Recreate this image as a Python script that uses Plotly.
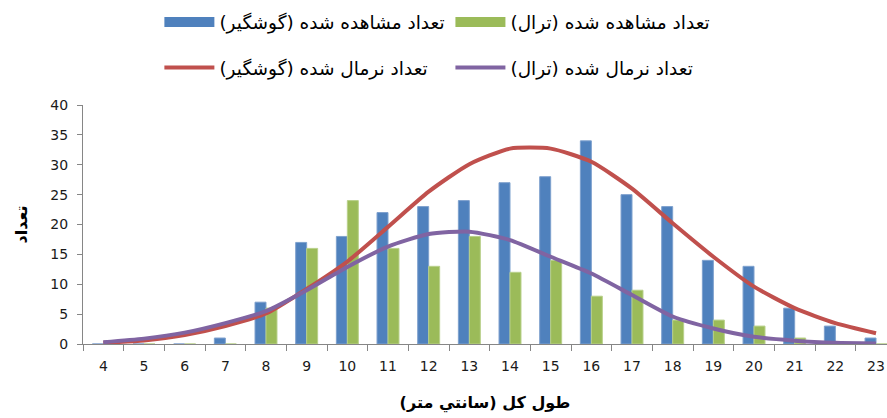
import plotly.graph_objects as go

# Total length classes (cm)
categories = ["4", "5", "6", "7", "8", "9", "10", "11", "12", "13",
              "14", "15", "16", "17", "18", "19", "20", "21", "22", "23"]

# Observed counts
gillnet_observed = [0, 0, 0, 1, 7, 17, 18, 22, 23, 24, 27, 28, 34, 25, 23, 14, 13, 6, 3, 1]
trawl_observed = [0, 0, 0, 0, 6, 16, 24, 16, 13, 18, 12, 14, 8, 9, 4, 4, 3, 1, 0, 0]

# Fitted normal counts
gillnet_normal = [0.2, 0.6, 1.5, 3.0, 5.1, 9.2, 13.8, 19.6, 25.5, 30.1,
                  32.7, 32.7, 30.5, 26.0, 20.2, 14.6, 9.6, 6.0, 3.5, 1.8]
trawl_normal = [0.3, 0.9, 1.9, 3.5, 5.5, 9.0, 12.9, 16.3, 18.4, 18.8,
                17.4, 14.6, 11.8, 8.2, 4.6, 2.6, 1.2, 0.55, 0.2, 0.1]

RLM = "\u200f"
names = [
    "تعداد مشاهده شده (گوشگیر)" + RLM,
    "تعداد مشاهده شده (ترال)" + RLM,
    "تعداد نرمال شده (گوشگیر)" + RLM,
    "تعداد نرمال شده (ترال)" + RLM,
]

BLUE = "#4F81BD"
GREEN = "#9BBB59"
RED = "#C0504D"
PURPLE = "#8064A2"
AXIS = "#868686"
FONT = "DejaVu Sans"

fig = go.Figure()
fig.add_trace(go.Bar(x=categories, y=gillnet_observed, name=names[0],
                     marker=dict(color=BLUE, line=dict(color="#7EA1CE", width=1)),
                     showlegend=False))
fig.add_trace(go.Bar(x=categories, y=trawl_observed, name=names[1],
                     marker=dict(color=GREEN, line=dict(color="#B8D08A", width=1)),
                     showlegend=False))
fig.add_trace(go.Scatter(x=categories, y=gillnet_normal, name=names[2], mode="lines",
                         line=dict(color=RED, width=4, shape="spline", smoothing=0.6),
                         legend="legend3"))
fig.add_trace(go.Scatter(x=categories, y=trawl_normal, name=names[3], mode="lines",
                         line=dict(color=PURPLE, width=4, shape="spline", smoothing=0.6),
                         legend="legend4"))

# Wide flat swatches for the bar series in the legend
fig.add_trace(go.Scatter(x=[None], y=[None], name=names[0], mode="lines",
                         line=dict(color=BLUE, width=10), legend="legend",
                         hoverinfo="skip"))
fig.add_trace(go.Scatter(x=[None], y=[None], name=names[1], mode="lines",
                         line=dict(color=GREEN, width=10), legend="legend2",
                         hoverinfo="skip"))


def legend_box(x, y):
    return dict(x=x, y=y, xanchor="left", yanchor="middle", orientation="h",
                bgcolor="rgba(0,0,0,0)", borderwidth=0, itemwidth=50,
                font=dict(family=FONT, size=18.5, color="#000000"))


fig.update_layout(
    width=887, height=418,
    margin=dict(l=83, r=0, t=105, b=74),
    paper_bgcolor="white", plot_bgcolor="white",
    showlegend=True,
    barmode="group", bargap=0.46, bargroupgap=0.0,
    font=dict(family=FONT, size=14, color="#1a1a1a"),
    legend=legend_box(0.095, 1.345),
    legend2=legend_box(0.457, 1.345),
    legend3=legend_box(0.095, 1.155),
    legend4=legend_box(0.457, 1.155),
    xaxis=dict(
        type="category", range=[-0.5, 19.27],
        showline=True, linecolor=AXIS, linewidth=1,
        ticks="outside", ticklen=6, tickcolor=AXIS, tickson="boundaries",
        ticklabelstandoff=9, showgrid=False, zeroline=False,
        tickfont=dict(family=FONT, size=14, color="#1a1a1a"),
        title=dict(text="<b>طول کل (سانتي متر)" + RLM + "</b>",
                   font=dict(family=FONT, size=16, color="#000000"), standoff=24),
    ),
    yaxis=dict(
        range=[0, 40], dtick=5, tick0=0,
        showline=True, linecolor=AXIS, linewidth=1,
        ticks="outside", ticklen=5, tickcolor=AXIS,
        ticklabelstandoff=6, showgrid=False, zeroline=False,
        tickfont=dict(family=FONT, size=14, color="#1a1a1a"),
        title=dict(text="<b>تعداد</b>",
                   font=dict(family=FONT, size=16, color="#000000"), standoff=18),
    ),
)

fig.write_html("out.html")
